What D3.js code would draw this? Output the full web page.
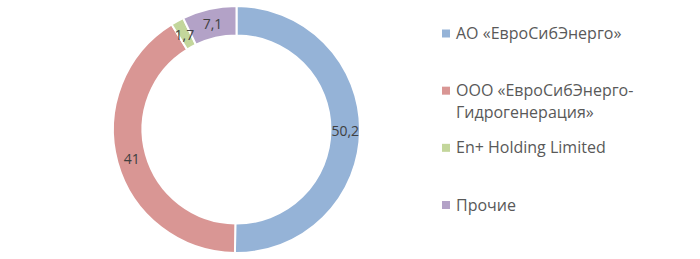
<!DOCTYPE html>
<html><head><meta charset="utf-8">
<script src="https://cdn.jsdelivr.net/npm/d3@7"></script>
<style>body{margin:0;background:#fff}svg{display:block}</style>
</head><body>
<svg id="c" width="700" height="259"></svg>
<script>
const categories = ["АО «ЕвроСибЭнерго»", "ООО «ЕвроСибЭнерго-Гидрогенерация»", "En+ Holding Limited", "Прочие"];
const legendLines = [["АО «ЕвроСибЭнерго»"], ["ООО «ЕвроСибЭнерго-", "Гидрогенерация»"], ["En+ Holding Limited"], ["Прочие"]];
const values = [50.2, 41, 1.7, 7.1];
const valueLabels = ["50,2", "41", "1,7", "7,1"];
const colors = ["#95b3d7", "#d99694", "#c3d69b", "#b3a2c7"];

const svg = d3.select("#c");
const cx = 236.5, cy = 129.5, rOuter = 123.5, rInner = 94;
const font = "Open Sans, Liberation Sans, sans-serif";
const g = svg.append("g").attr("transform", `translate(${cx},${cy})`);
const pie = d3.pie().sort(null).value(d => d);
const arcs = pie(values);
const arc = d3.arc().innerRadius(rInner).outerRadius(rOuter);
g.selectAll("path").data(arcs).join("path")
  .attr("d", arc).attr("fill", (d, i) => colors[i])
  .attr("stroke", "#fff").attr("stroke-width", 2);
g.selectAll("text").data(arcs).join("text")
  .attr("transform", d => `translate(${arc.centroid(d)})`)
  .attr("text-anchor", "middle").attr("dominant-baseline", "central")
  .attr("font-family", font).attr("font-size", 14).attr("fill", "#404040")
  .text((d, i) => valueLabels[i]);

const ly = d3.scalePoint().domain(d3.range(categories.length)).range([33.5, 205]);
const leg = svg.append("g");
const rows = leg.selectAll("g").data(categories).join("g")
  .attr("transform", (d, i) => `translate(442,${ly(i)})`);
rows.append("rect").attr("x", 0).attr("y", -4).attr("width", 8).attr("height", 8)
  .attr("fill", (d, i) => colors[i]);
rows.append("text").attr("font-family", font).attr("font-size", 16).attr("fill", "#595959")
  .selectAll("tspan").data((d, i) => legendLines[i].map((t, j) => ({t, j})))
  .join("tspan").attr("x", 14).attr("y", d => d.j * 21.5 + 5.5)
  .text(d => d.t);
</script>
</body></html>
